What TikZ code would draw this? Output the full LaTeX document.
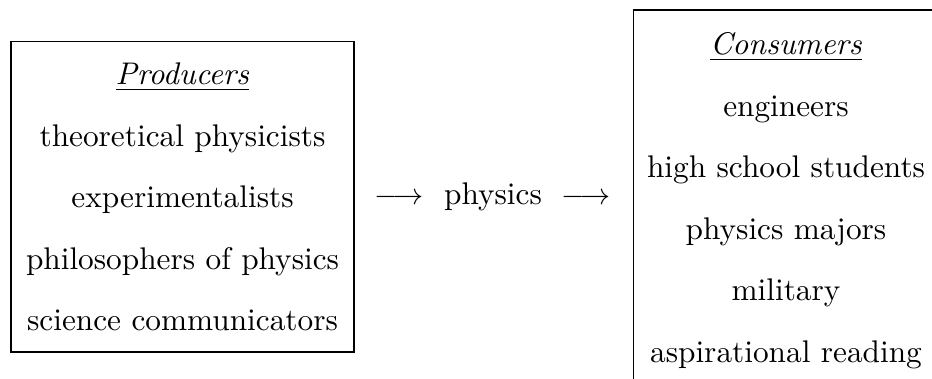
\documentclass[tikz,border=0pt]{standalone}
\begin{document}
\begin{tikzpicture}[x=0.3322pt,y=-0.3322pt,
  txt/.style={anchor=base,inner sep=0pt,font=\fontsize{10.4}{12.5}\selectfont},
  frame/.style={draw,line width=0.4pt,inner sep=0pt}]
\useasboundingbox (0,0) rectangle (932,379);
\clip (0,0) rectangle (932,379);
% boxes
\node[frame,minimum width={343*0.3322pt},minimum height={310.3*0.3322pt}] (prod) at (182.5,196.8) {};
\node[frame,minimum width={310*0.3322pt},minimum height={373.6*0.3322pt}] (cons) at (788.5,196.8) {};
% producers
\node[txt] (ph) at (182.5,85) {\underline{\textit{Producers}}};
\node[txt] (p1) at (182.5,146.5) {theoretical physicists};
\node[txt] (p2) at (182.5,208) {experimentalists};
\node[txt] (p3) at (182.5,269.5) {philosophers of physics};
\node[txt] (p4) at (182.5,331) {science communicators};
% middle
\node[txt] (a1) at (399,205) {$\longrightarrow$};
\node[txt] (phys) at (493,205) {physics};
\node[txt] (a2) at (586,205) {$\longrightarrow$};
% consumers
\node[txt] (ch) at (786,55) {\underline{\textit{Consumers}}};
\node[txt] (c1) at (786,116.5) {engineers};
\node[txt] (c2) at (786,178) {high school students};
\node[txt] (c3) at (786,239.5) {physics majors};
\node[txt] (c4) at (786,301) {military};
\node[txt] (c5) at (786,362.5) {aspirational reading};
\end{tikzpicture}
\end{document}
